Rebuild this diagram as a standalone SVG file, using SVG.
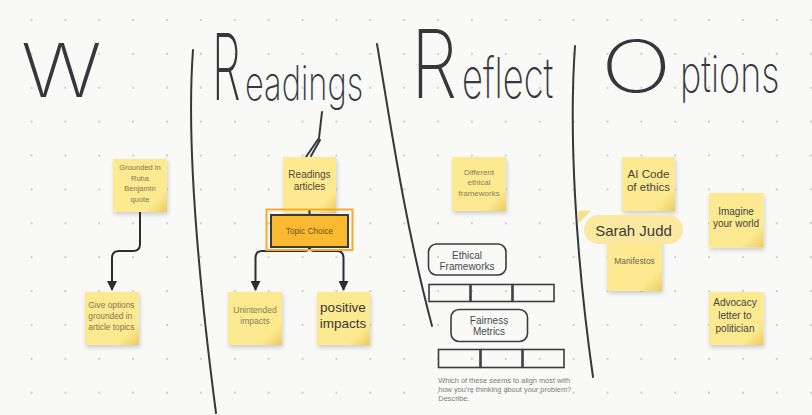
<svg xmlns="http://www.w3.org/2000/svg" width="812" height="415" viewBox="0 0 812 415">
<defs>
<pattern id="dots" patternUnits="userSpaceOnUse" x="14.56" y="3.06" width="33.88" height="33.88">
<circle cx="16.94" cy="16.94" r="1.1" fill="#c6c6c4"/>
</pattern>
<filter id="sh" x="-20%" y="-20%" width="150%" height="150%">
<feDropShadow dx="1" dy="2.5" stdDeviation="2" flood-color="#000" flood-opacity="0.18"/>
</filter>
<linearGradient id="fold" x1="0" y1="0" x2="1" y2="1">
<stop offset="0.78" stop-color="#e9c85c" stop-opacity="0"/>
<stop offset="1" stop-color="#e3bf4f" stop-opacity="0.75"/>
</linearGradient>
<marker id="arr" viewBox="0 0 10 10" refX="9" refY="5" markerWidth="5" markerHeight="5" markerUnits="strokeWidth" orient="auto">
<path d="M0,0 L10,5 L0,10 Z" fill="#2b2d31"/>
</marker>
<style>
.note{fill:#fde98f;filter:url(#sh)}
.fold{fill:url(#fold)}
.t{font-family:"Liberation Sans",Arial,sans-serif;text-anchor:middle}
.ink{fill:none;stroke:#35373b;stroke-width:2;stroke-linecap:round;stroke-linejoin:round}
.hw{font-family:Inter,"Lato","DejaVu Sans",sans-serif;font-weight:200;fill:#35373b}
.conn{fill:none;stroke:#2b2d31;stroke-width:2}
.box{fill:none;stroke:#3a3c40;stroke-width:1.6}
</style>
</defs>
<rect width="812" height="415" fill="#f9f9f8"/>
<rect width="812" height="415" fill="url(#dots)"/>

<g id="handwriting">
<text class="hw" transform="translate(21,97) scale(1.15,1)" font-size="74">W</text>
<text class="hw" transform="translate(212,100) scale(0.5,1)" font-size="92">R</text>
<text class="hw" transform="translate(245,100) scale(0.68,1)" font-size="48">eadings</text>
<text class="hw" transform="translate(411,98) scale(0.78,1)" font-size="95">R</text>
<text class="hw" transform="translate(462,98) scale(0.65,1)" font-size="56">eflect</text>
<text class="hw" transform="translate(601,92) scale(1.3,1)" font-size="72">O</text>
<text class="hw" transform="translate(680,92) scale(0.72,1)" font-size="50">ptions</text>
</g>

<g id="separators">
<path class="ink" d="M193,50 C187,130 196,260 216,413"/>
<path class="ink" d="M377,44 C390,120 404,220 432,326"/>
<path class="ink" d="M575,46 C569,130 575,250 593,377"/>
<path class="ink" d="M322,112 L319,138 L306,157 M320,140 L311,156"/>
</g>

<g id="n-grounded">
<rect class="note" x="113" y="159" width="54" height="53"/>
<rect class="fold" x="113" y="159" width="54" height="53"/>
<text class="t" font-size="7.5" fill="#7d7658"><tspan x="140" y="170">Grounded in</tspan><tspan x="140" y="180.5">Ruha</tspan><tspan x="140" y="191">Benjamin</tspan><tspan x="140" y="201.5">quote</tspan></text>
</g>

<g id="n-give">
<rect class="note" x="85" y="292" width="54" height="53"/>
<rect class="fold" x="85" y="292" width="54" height="53"/>
<text font-family="Liberation Sans,Arial,sans-serif" font-size="8.3" fill="#7d7658"><tspan x="88.3" y="308">Give options</tspan><tspan x="88.3" y="319">grounded in</tspan><tspan x="88.3" y="330">article topics</tspan></text>
</g>

<g id="n-readings">
<rect class="note" x="283" y="157" width="53" height="56"/>
<rect class="fold" x="283" y="157" width="53" height="56"/>
<text class="t" font-size="10" fill="#4d4a3e"><tspan x="309.5" y="178">Readings</tspan><tspan x="309.5" y="190">articles</tspan></text>
</g>

<g id="n-unintended">
<rect class="note" x="228" y="292" width="54" height="53"/>
<rect class="fold" x="228" y="292" width="54" height="53"/>
<text class="t" font-size="8.5" fill="#857e63"><tspan x="255" y="313">Unintended</tspan><tspan x="255" y="324">impacts</tspan></text>
</g>

<g id="n-positive">
<rect class="note" x="317" y="292" width="53" height="53"/>
<rect class="fold" x="317" y="292" width="53" height="53"/>
<text class="t" font-size="13.5" fill="#38383a"><tspan x="343" y="312">positive</tspan><tspan x="343" y="328">impacts</tspan></text>
</g>

<g id="connectors">
<path class="conn" d="M140,212 V244 Q140,251 133,251 H119 Q112,251 112,258 V290" marker-end="url(#arr)"/>
<path class="conn" d="M309.5,210 V215"/>
<path class="conn" d="M309.5,247 Q309.5,251 304,251 H262 Q255.5,251 255.5,258 V290" marker-end="url(#arr)"/>
<path class="conn" d="M309.5,247 Q309.5,251 315,251 H337 Q343.5,251 343.5,258 V290" marker-end="url(#arr)"/>
</g>

<g id="n-topic">
<rect x="266.5" y="209.5" width="86" height="40.5" fill="none" stroke="#f7a928" stroke-width="2"/>
<rect x="271" y="215" width="77" height="32" fill="#fbb930" stroke="#3a3a3a" stroke-width="2"/>
<text class="t" x="309.5" y="234" font-size="8.3" fill="#6b5520">Topic Choice</text>
</g>

<g id="n-different">
<rect class="note" x="452" y="157" width="54" height="54"/>
<rect class="fold" x="452" y="157" width="54" height="54"/>
<text class="t" font-size="8" fill="#857e63"><tspan x="479" y="174.5">Different</tspan><tspan x="479" y="185">ethical</tspan><tspan x="479" y="195.5">frameworks</tspan></text>
</g>

<g id="n-ethical">
<rect class="box" x="428.5" y="244" width="77.5" height="31" rx="8"/>
<text class="t" font-size="10" fill="#4a4a4a"><tspan x="467" y="258.5">Ethical</tspan><tspan x="467" y="270">Frameworks</tspan></text>
</g>

<g id="table1">
<rect class="box" x="429" y="284.5" width="41" height="17"/>
<rect class="box" x="471" y="284.5" width="41" height="17"/>
<rect class="box" x="513" y="284.5" width="41" height="17"/>
</g>

<g id="n-fairness">
<rect class="box" x="451" y="309.5" width="76.5" height="32" rx="8"/>
<text class="t" font-size="10" fill="#4a4a4a"><tspan x="489" y="323.5">Fairness</tspan><tspan x="489" y="335">Metrics</tspan></text>
</g>

<g id="table2">
<rect class="box" x="438.5" y="349.5" width="41.5" height="18"/>
<rect class="box" x="481" y="349.5" width="41" height="18"/>
<rect class="box" x="523" y="349.5" width="41" height="18"/>
</g>

<g id="question">
<text font-family="Liberation Sans,Arial,sans-serif" font-size="7.4" fill="#7a7a7a"><tspan x="438.3" y="382.5">Which of these seems to align most with</tspan><tspan x="438.3" y="391.5">how you're thinking about your problem?</tspan><tspan x="438.3" y="400.5">Describe.</tspan></text>
</g>

<g id="n-aicode">
<rect class="note" x="622" y="157" width="53" height="54"/>
<rect class="fold" x="622" y="157" width="53" height="54"/>
<text class="t" font-size="11.6" fill="#444"><tspan x="648.5" y="177.5">AI Code</tspan><tspan x="648.5" y="190.5">of ethics</tspan></text>
</g>

<g id="n-manifestos">
<rect class="note" x="607" y="237" width="55" height="54"/>
<rect class="fold" x="607" y="237" width="55" height="54"/>
<text class="t" x="634.5" y="263.5" font-size="8.4" fill="#6e684f">Manifestos</text>
</g>

<g id="cursor">
<path d="M578.3,210.7 L591,210.7 L578.3,223.5 Z" fill="#f8df85"/>
<rect x="584" y="215" width="99" height="29" rx="14.5" fill="#fce9a1"/>
<text class="t" x="633.5" y="235.5" font-size="15" fill="#3a3a3a">Sarah Judd</text>
</g>

<g id="n-imagine">
<rect class="note" x="709" y="193" width="54.5" height="54.5"/>
<rect class="fold" x="709" y="193" width="54.5" height="54.5"/>
<text class="t" font-size="10" fill="#444"><tspan x="736" y="215">Imagine</tspan><tspan x="736" y="226.7">your world</tspan></text>
</g>

<g id="n-advocacy">
<rect class="note" x="709" y="292" width="54.5" height="53"/>
<rect class="fold" x="709" y="292" width="54.5" height="53"/>
<text class="t" font-size="10" fill="#444"><tspan x="735" y="305.5">Advocacy</tspan><tspan x="735" y="318.5">letter to</tspan><tspan x="735" y="331.5">politician</tspan></text>
</g>
</svg>
